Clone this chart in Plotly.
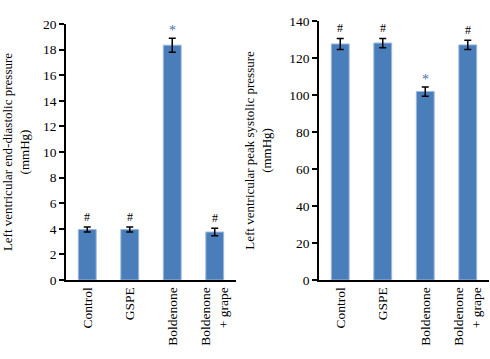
import plotly.graph_objects as go

categories = ["Control", "GSPE", "Boldenone", "Boldenone<br>+ grape"]
edp_values = [3.95, 3.95, 18.35, 3.75]
edp_errors = [0.2, 0.2, 0.55, 0.3]
edp_marks = ["#", "#", "*", "#"]
psp_values = [127.5, 128.0, 101.8, 127.0]
psp_errors = [3.0, 2.5, 2.5, 2.5]
psp_marks = ["#", "#", "*", "#"]
edp_ticks = [0, 2, 4, 6, 8, 10, 12, 14, 16, 18, 20]
psp_ticks = [0, 20, 40, 60, 80, 100, 120, 140]

FONT = "Liberation Serif"
BAR = "#4a7ebb"
STAR = "#4a6fa5"

fig = go.Figure()
for vals, errs, xa, ya in [(edp_values, edp_errors, "x", "y"), (psp_values, psp_errors, "x2", "y2")]:
    fig.add_trace(go.Bar(
        x=categories, y=vals, xaxis=xa, yaxis=ya, width=0.42,
        marker=dict(color=BAR, line=dict(color="#9db8dc", width=1)),
        error_y=dict(type="data", array=errs, visible=True, color="black", thickness=1.5, width=3.5),
        showlegend=False, hoverinfo="skip",
    ))

annotations = []
for vals, errs, marks, xa, ya in [(edp_values, edp_errors, edp_marks, "x", "y"),
                                  (psp_values, psp_errors, psp_marks, "x2", "y2")]:
    for c, v, e, m in zip(categories, vals, errs, marks):
        annotations.append(dict(
            x=c, y=v + e, xref=xa, yref=ya, text=m, showarrow=False,
            yanchor="bottom", yshift=1 if m == "#" else -2,
            font=dict(family=FONT, size=12 if m == "#" else 14, color="black" if m == "#" else STAR),
        ))

axis_common = dict(showline=True, linecolor="black", linewidth=1.5, showgrid=False, zeroline=False,
                   automargin=False,
                   tickfont=dict(family=FONT, size=13.5, color="black"))

fig.update_layout(
    width=490, height=359, margin=dict(l=0, r=0, t=0, b=0),
    paper_bgcolor="white", plot_bgcolor="white",
    annotations=annotations,
    xaxis=dict(domain=[0.1347, 0.4816], anchor="y", range=[-0.5, 3.5], tickangle=-90,
               ticks="", **axis_common),
    xaxis2=dict(domain=[0.651, 0.998], anchor="y2", range=[-0.5, 3.5], tickangle=-90,
                ticks="", **axis_common),
    yaxis=dict(domain=[0.22, 0.933], anchor="x", range=[0, 20], tickvals=edp_ticks,
               ticks="outside", ticklen=5, tickwidth=1.5, tickcolor="black",
               title=dict(text="Left ventricular end-diastolic pressure<br>(mmHg)",
                          font=dict(family=FONT, size=13, color="black"), standoff=13),
               **axis_common),
    yaxis2=dict(domain=[0.22, 0.942], anchor="x2", range=[0, 140], tickvals=psp_ticks,
                ticks="outside", ticklen=5, tickwidth=1.5, tickcolor="black",
                title=dict(text="Left ventricular peak systolic pressure<br>(mmHg)",
                           font=dict(family=FONT, size=13, color="black"), standoff=15),
                **axis_common),
)

fig.write_html("out.html", config={"displayModeBar": False},
               post_script="document.body.style.margin='0';document.body.style.overflow='hidden';")
